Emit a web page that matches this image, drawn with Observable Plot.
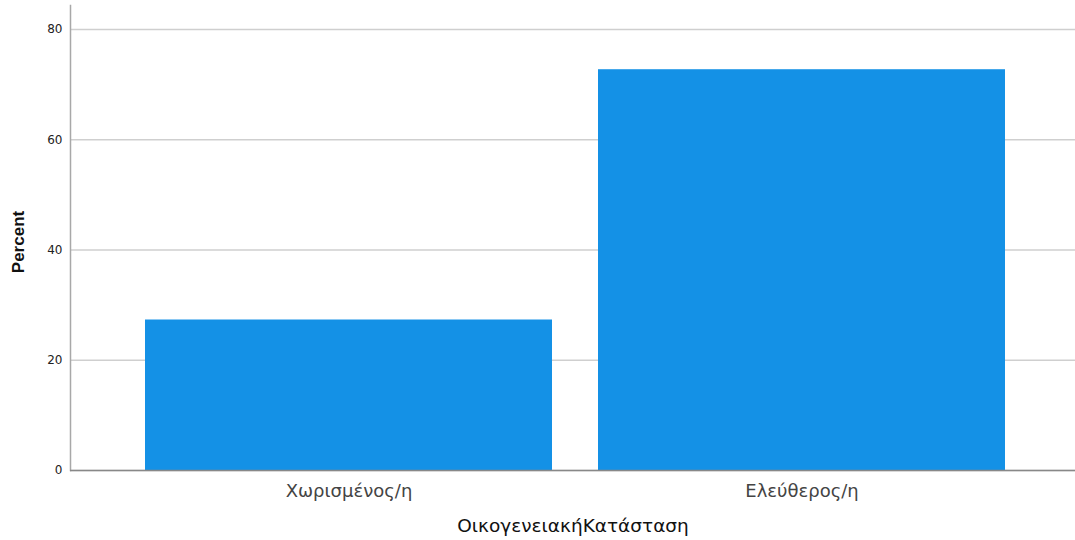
<!DOCTYPE html>
<html><head><meta charset="utf-8">
<script src="https://cdn.jsdelivr.net/npm/d3@7"></script>
<script src="https://cdn.jsdelivr.net/npm/@observablehq/plot@0.6"></script>
<style>body{margin:0;background:#fff}</style>
</head><body><div id="chart"></div>
<script>
const categories = ["Χωρισμένος/η", "Ελεύθερος/η"];
const percents = [27.3, 72.7];
const yTicks = [0, 20, 40, 60, 80];
const xTitle = "ΟικογενειακήΚατάσταση";
const yTitle = "Percent";

const data = categories.map((c, i) => ({cat: c, pct: percents[i]}));

const chart = Plot.plot({
  width: 1075, height: 540,
  marginLeft: 70, marginRight: 0, marginTop: 5, marginBottom: 70,
  style: {fontFamily: "'DejaVu Sans', sans-serif", background: "#fff"},
  x: {domain: categories, paddingInner: 0.101, paddingOuter: 0.1575, align: 0.517, label: null},
  y: {domain: [0, 84.35], label: null},
  marks: [
    Plot.gridY(yTicks, {stroke: "#cfcfcf", strokeOpacity: 1, strokeWidth: 1.5}),
    Plot.barY(data, {x: "cat", y: "pct", fill: "#1491e6"}),
    Plot.axisY(yTicks, {tickSize: 0, tickPadding: 8, fontSize: 12, fill: "#222", label: null}),
    Plot.axisX({tickSize: 0, tickPadding: 14, fontSize: 18, fill: "#444", label: null}),
    Plot.frame({anchor: "left", stroke: "#a8a8a8", strokeWidth: 1.5}),
    Plot.ruleY([0], {stroke: "#888", strokeWidth: 1.5}),
    Plot.text([xTitle], {frameAnchor: "bottom", dy: 61, fontSize: 18.5, fill: "#111"}),
    Plot.text([yTitle], {frameAnchor: "left", textAnchor: "middle", dx: -52, dy: 4, rotate: -90, fontSize: 17, fontWeight: "bold", fill: "#111", fontFamily: "'Liberation Sans Narrow', 'Liberation Sans', sans-serif"})
  ]
});
document.getElementById("chart").appendChild(chart);
</script></body></html>
